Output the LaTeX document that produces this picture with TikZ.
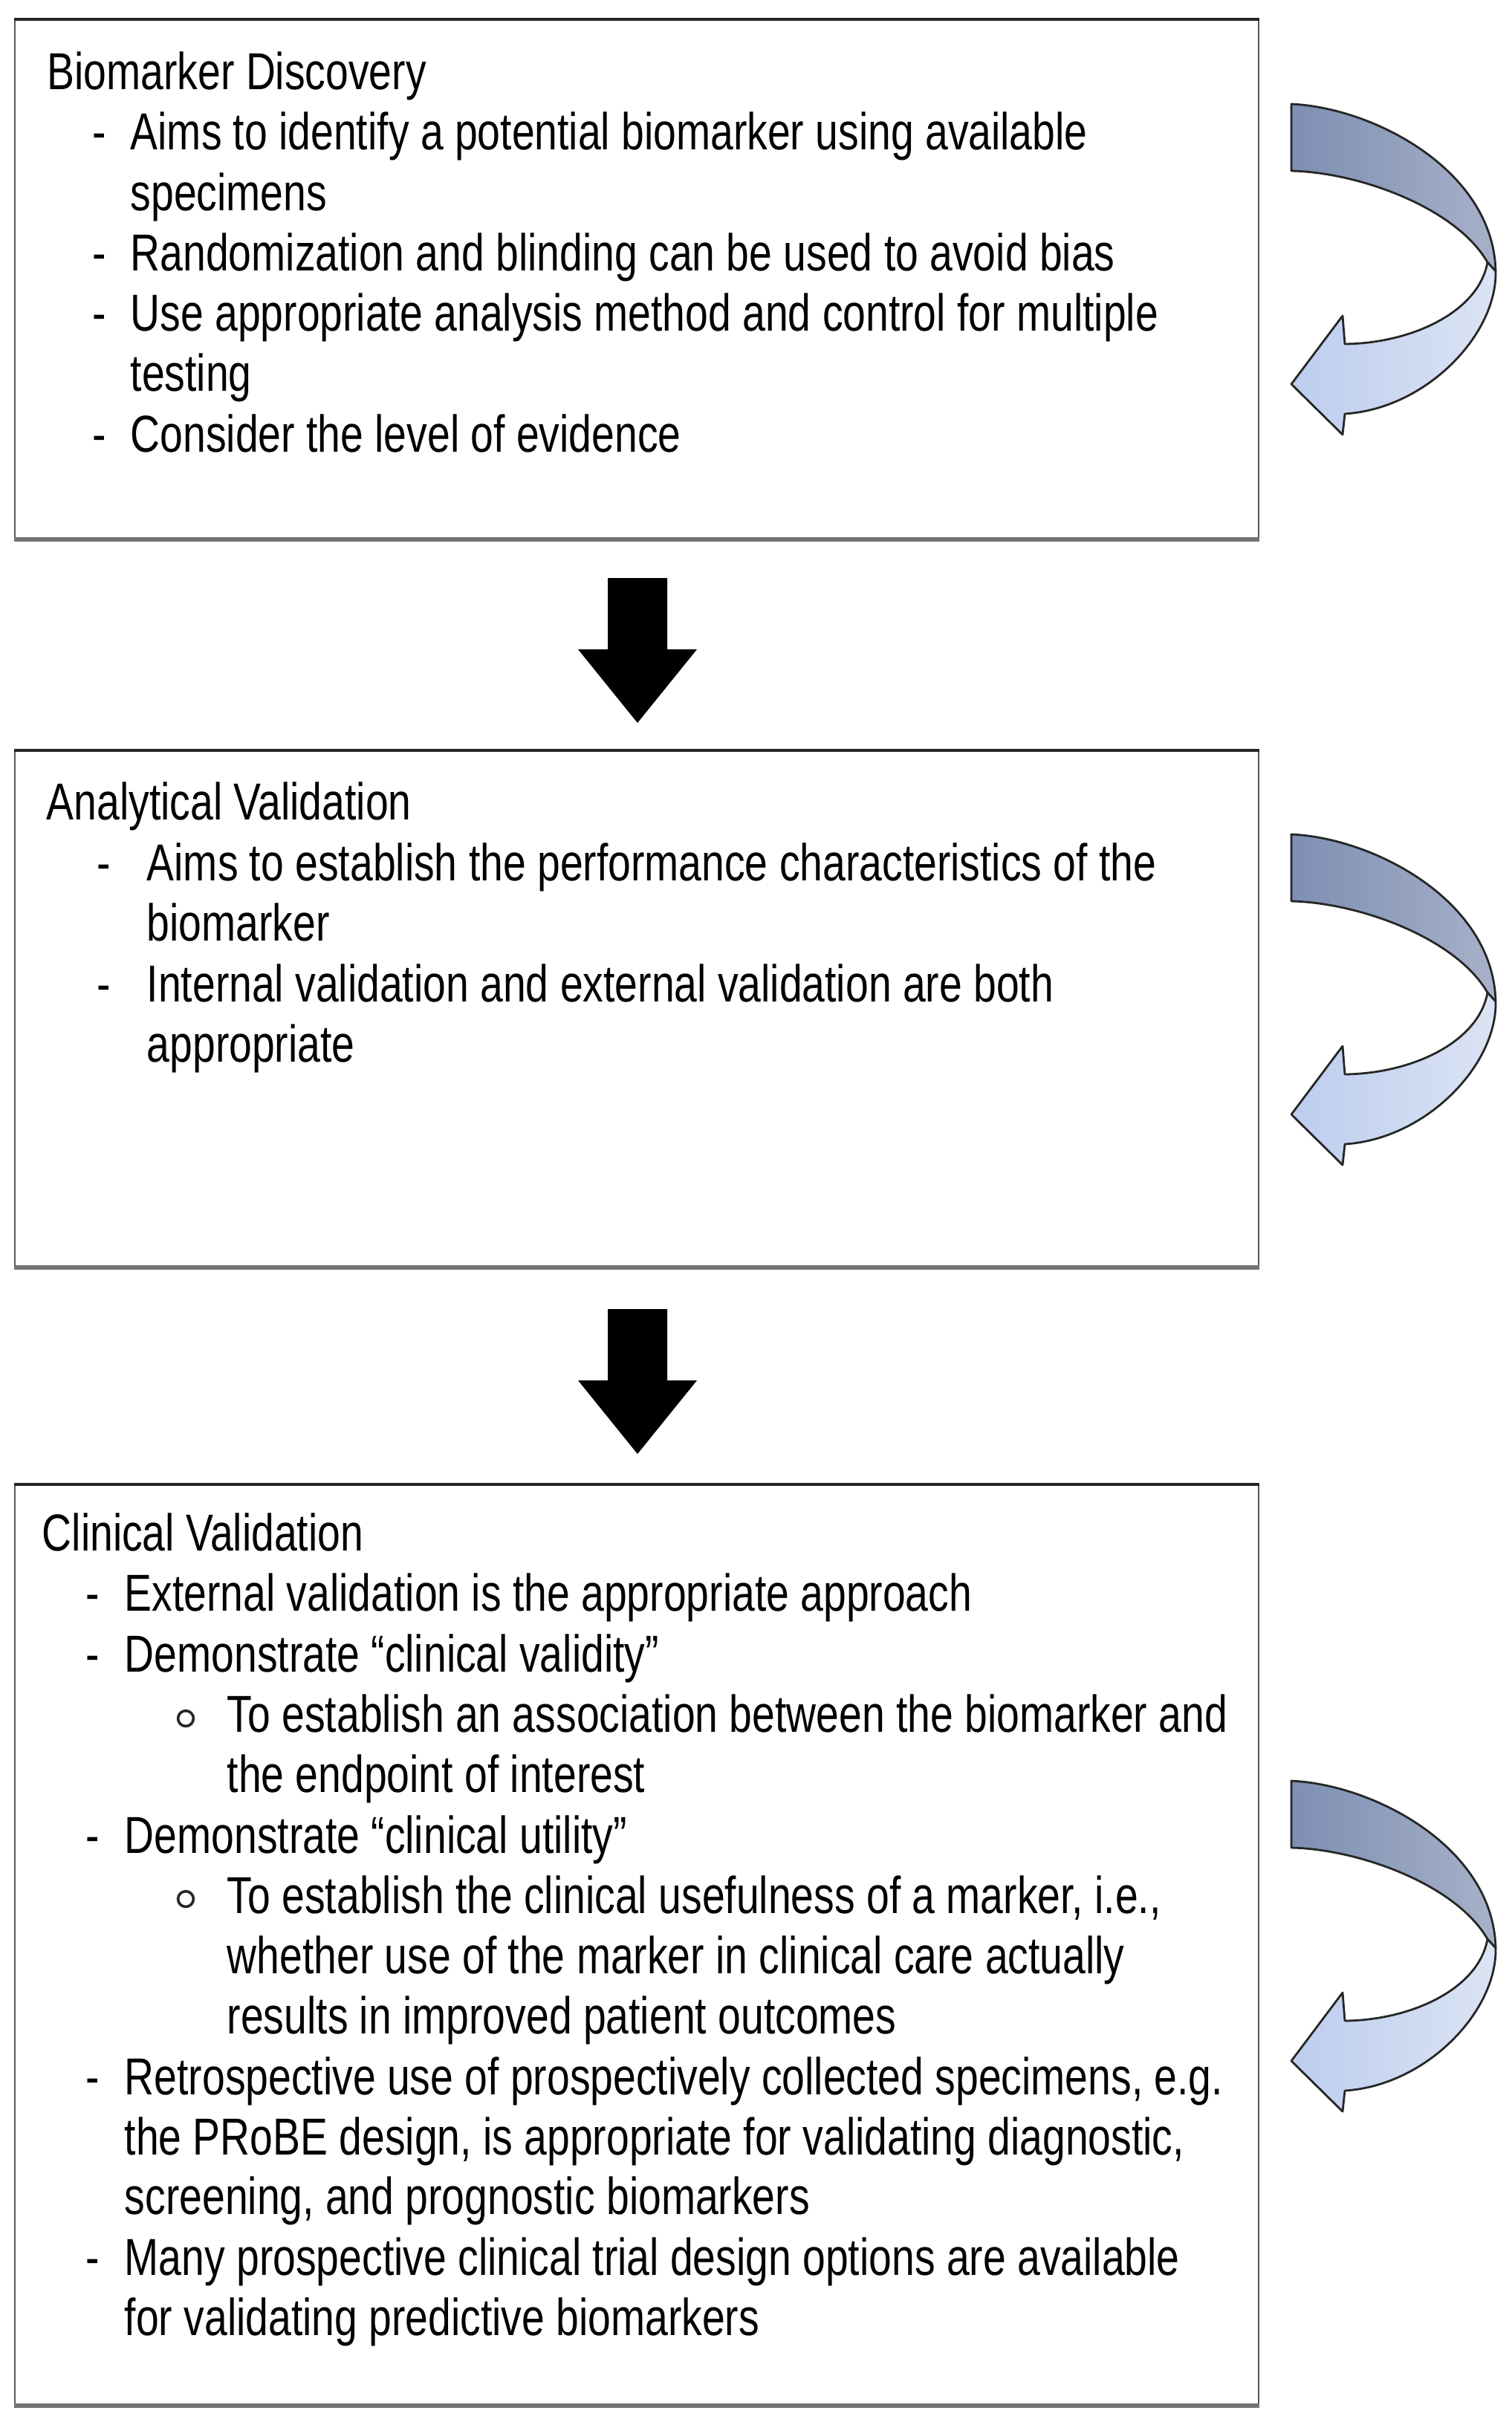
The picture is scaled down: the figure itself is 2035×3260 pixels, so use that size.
\documentclass[tikz,border=0pt]{standalone}
\usepackage{fontspec}
\setmainfont{Liberation Sans}[FakeStretch=0.79]
\usetikzlibrary{calc}
\definecolor{upL}{HTML}{7D8FB3}
\definecolor{upR}{HTML}{A7B1C9}
\definecolor{loL}{HTML}{BCCDEE}
\definecolor{loR}{HTML}{DCE4F4}
\tikzset{
  txt/.style={anchor=base west, inner sep=0pt, font=\fontsize{17.5}{21}\selectfont, text=black},
  boxnode/.style={draw=black!65, line width=0.5pt, inner sep=0pt, minimum width=418.5pt},
  topline/.style={draw=black!85, line width=1pt},
  botline/.style={draw=black!55, line width=1.3pt},
  subbullet/.style={circle, draw=black!85, line width=0.9pt, inner sep=0pt, minimum size=5.2pt},
  rib/.style={draw=black!85, line width=0.7pt, line join=round},
  downarrow/.pic={
    \fill[black] (-40,0) -- (40,0) -- (40,96) -- (80,96) -- (0,195) -- (-80,96) -- (-40,96) -- cycle;
  },
  curvarrow/.pic={
    \path[rib, left color=upL, right color=upR]
      (0,0) .. controls (112,5) and (272,90) .. (275,225)
      -- (264,213) .. controls (222,140) and (92,92) .. (0,90) -- cycle;
    \path[rib, left color=loL, right color=loR]
      (264,213) .. controls (252,280) and (162,322) .. (72,323)
      -- (69,285) -- (0,377) -- (69,445) -- (72,417)
      .. controls (182,410) and (277,310) .. (275,225) -- cycle;
  }
}
\begin{document}
\begin{tikzpicture}[x=0.25pt, y=-0.25pt]
\useasboundingbox (0,0) rectangle (2035,3260);
\fill[white] (0,0) rectangle (2035,3260);

% boxes
\node[boxnode, minimum height=174.5pt] (b1) at (857,376) {};
\node[boxnode, minimum height=173.5pt] (b2) at (857,1358) {};
\node[boxnode, minimum height=309.5pt] (b3) at (857,2618) {};
\foreach \b in {b1,b2,b3}{
  \draw[topline] (\b.north west) -- (\b.north east);
  \draw[botline] (\b.south west) -- (\b.south east);
}

% block arrows between boxes
\pic at ($(b1.south)+(1,52)$) {downarrow};
\pic at ($(b2.south)+(1,56)$) {downarrow};

% curved arrows
\pic at (1738,140) {curvarrow};
\pic at (1738,1123) {curvarrow};
\pic at (1738,2397) {curvarrow};

% Box 1 text
\node[txt] (t1a) at (63,120) {Biomarker Discovery};
\node[txt] (d1a) at (124,201) {-};
\node[txt] (t1b) at (175,201) {Aims to identify a potential biomarker using available};
\node[txt] (t1c) at (175,283) {specimens};
\node[txt] (d1b) at (124,364) {-};
\node[txt] (t1d) at (175,364) {Randomization and blinding can be used to avoid bias};
\node[txt] (d1c) at (124,445) {-};
\node[txt] (t1e) at (175,445) {Use appropriate analysis method and control for multiple};
\node[txt] (t1f) at (175,526) {testing};
\node[txt] (d1d) at (124,608) {-};
\node[txt] (t1g) at (175,608) {Consider the level of evidence};

% Box 2 text
\node[txt] (t2a) at (62,1103) {Analytical Validation};
\node[txt] (d2a) at (130,1185) {-};
\node[txt] (t2b) at (197,1185) {Aims to establish the performance characteristics of the};
\node[txt] (t2c) at (197,1266) {biomarker};
\node[txt] (d2b) at (130,1348) {-};
\node[txt] (t2d) at (197,1348) {Internal validation and external validation are both};
\node[txt] (t2e) at (197,1429) {appropriate};

% Box 3 text
\node[txt] (t3a) at (56,2087) {Clinical Validation};
\node[txt] (d3a) at (115,2168) {-};
\node[txt] (t3b) at (167,2168) {External validation is the appropriate approach};
\node[txt] (d3b) at (115,2250) {-};
\node[txt] (t3c) at (167,2250) {Demonstrate “clinical validity”};
\node[subbullet] (c3a) at (250,2313) {};
\node[txt] (t3d) at (305,2331) {To establish an association between the biomarker and};
\node[txt] (t3e) at (305,2412) {the endpoint of interest};
\node[txt] (d3c) at (115,2494) {-};
\node[txt] (t3f) at (167,2494) {Demonstrate “clinical utility”};
\node[subbullet] (c3b) at (250,2556) {};
\node[txt] (t3g) at (305,2575) {To establish the clinical usefulness of a marker, i.e.,};
\node[txt] (t3h) at (305,2656) {whether use of the marker in clinical care actually};
\node[txt] (t3i) at (305,2737) {results in improved patient outcomes};
\node[txt] (d3d) at (115,2819) {-};
\node[txt] (t3j) at (167,2819) {Retrospective use of prospectively collected specimens, e.g.};
\node[txt] (t3k) at (167,2900) {the PRoBE design, is appropriate for validating diagnostic,};
\node[txt] (t3l) at (167,2980) {screening, and prognostic biomarkers};
\node[txt] (d3e) at (115,3062) {-};
\node[txt] (t3m) at (167,3062) {Many prospective clinical trial design options are available};
\node[txt] (t3n) at (167,3143) {for validating predictive biomarkers};
\end{tikzpicture}
\end{document}
